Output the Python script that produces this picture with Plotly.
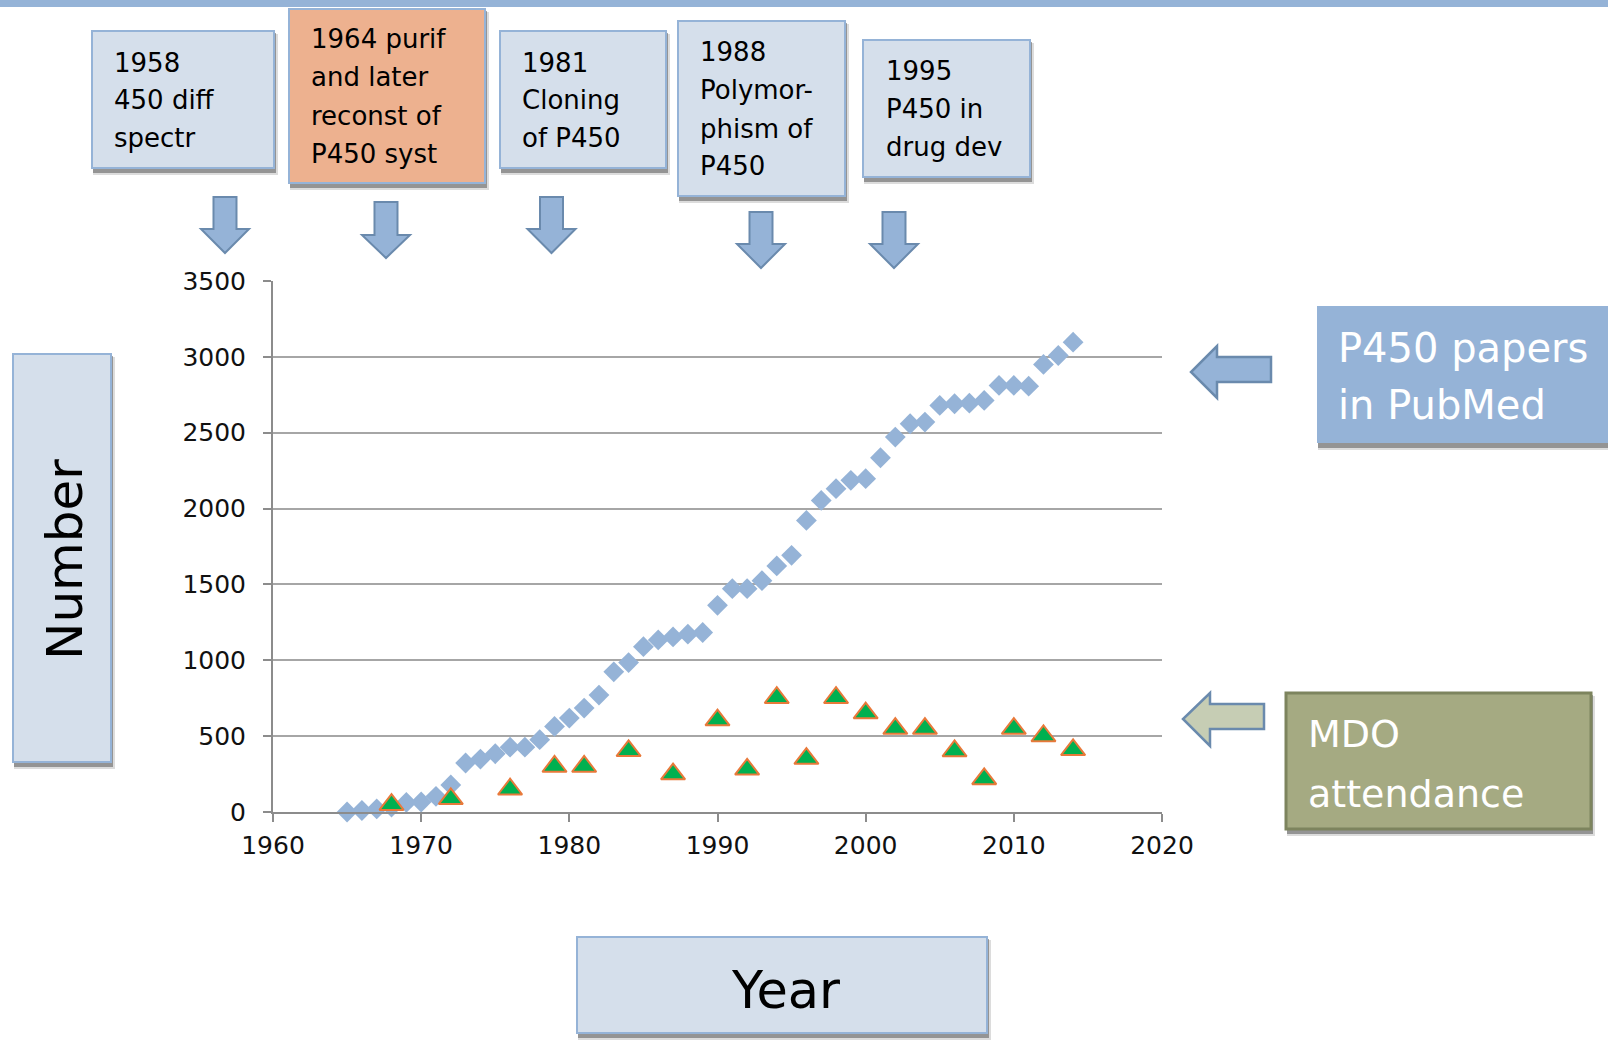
import plotly.graph_objects as go

# ---------------- data ----------------
paper_years = [1965, 1966, 1967, 1968, 1969, 1970, 1971, 1972, 1973, 1974,
               1975, 1976, 1977, 1978, 1979, 1980, 1981, 1982, 1983, 1984,
               1985, 1986, 1987, 1988, 1989, 1990, 1991, 1992, 1993, 1994,
               1995, 1996, 1997, 1998, 1999, 2000, 2001, 2002, 2003, 2004,
               2005, 2006, 2007, 2008, 2009, 2010, 2011, 2012, 2013, 2014]
p450_papers = [0, 10, 20, 33, 63, 66, 103, 178, 323, 349,
               384, 427, 427, 477, 564, 619, 685, 771, 924, 985,
               1090, 1134, 1154, 1172, 1183, 1362, 1472, 1472, 1525, 1622,
               1692, 1922, 2054, 2131, 2186, 2197, 2335, 2471, 2559, 2570,
               2680, 2691, 2695, 2713, 2812, 2812, 2807, 2950, 3009, 3097]

mdo_years = [1968, 1972, 1976, 1979, 1981, 1984, 1987, 1990, 1992, 1994,
             1996, 1998, 2000, 2002, 2004, 2006, 2008, 2010, 2012, 2014]
mdo_attendance = [48, 87, 150, 300, 300, 403, 250, 606, 281, 753,
                  352, 753, 652, 550, 550, 402, 218, 550, 501, 410]

x_ticks = [1960, 1970, 1980, 1990, 2000, 2010, 2020]
y_ticks = [0, 500, 1000, 1500, 2000, 2500, 3000, 3500]

milestones = [
    ["1958", "450 diff", "spectr"],
    ["1964 purif", "and later", "reconst of", "P450 syst"],
    ["1981", "Cloning", "of P450"],
    ["1988", "Polymor-", "phism of", "P450"],
    ["1995", "P450 in", "drug dev"],
]

# ---------------- layout helpers (pixel -> paper) ----------------
W, H = 1608, 1040
L, R, T, B = 273, 446, 281, 228
PW, PH = W - L - R, H - T - B


def px(x):
    return (x - L) / PW


def py(y):
    return (H - B - y) / PH


FONT = "DejaVu Sans"
BOX_FILL = "#D5DFEB"
BOX_LINE = "#95B3D7"
BLUE = "#95B3D7"
ARROW_LINE = "#6A8AAD"

shapes = []
annotations = []


def rect(x0, y0, x1, y1, fill, line=None, lw=0, shadow=True):
    if shadow:
        shapes.append(dict(type="rect", xref="paper", yref="paper",
                           x0=px(x0 + 1), x1=px(x1 + 4), y0=py(y1 + 7), y1=py(y0 + 3),
                           fillcolor="rgba(60,60,60,0.18)", line=dict(width=0), layer="below"))
        shapes.append(dict(type="rect", xref="paper", yref="paper",
                           x0=px(x0 + 1), x1=px(x1 + 2), y0=py(y1 + 5), y1=py(y0 + 2),
                           fillcolor="rgba(60,60,60,0.45)", line=dict(width=0), layer="below"))
    shapes.append(dict(type="rect", xref="paper", yref="paper",
                       x0=px(x0), x1=px(x1), y0=py(y1), y1=py(y0),
                       fillcolor=fill,
                       line=dict(color=line if line else fill, width=lw), layer="below"))


def poly(points, fill, line, lw=2):
    d = "M " + " L ".join(f"{px(x):.5f},{py(y):.5f}" for x, y in points) + " Z"
    shapes.append(dict(type="path", xref="paper", yref="paper", path=d,
                       fillcolor=fill, line=dict(color=line, width=lw), layer="below"))


def text(x, y, s, size, color="black", xanchor="left", angle=0):
    annotations.append(dict(xref="paper", yref="paper", x=px(x), y=py(y), text=s,
                            showarrow=False, xanchor=xanchor, yanchor="middle",
                            textangle=angle,
                            font=dict(family=FONT, size=size, color=color)))


# top bar
shapes.append(dict(type="rect", xref="paper", yref="paper", x0=px(0), x1=px(W),
                   y0=py(7), y1=py(0), fillcolor=BLUE, line=dict(width=0), layer="below"))

# milestone boxes
boxes = [(92, 31, 274, 168, BOX_FILL), (289, 9, 485, 183, "#EDB18F"),
         (500, 31, 666, 168, BOX_FILL), (678, 21, 845, 196, BOX_FILL),
         (863, 40, 1030, 177, BOX_FILL)]
text_left = [112, 309, 520, 698, 884]
text_y = [[63, 100.5, 138], [39, 77.3, 115.6, 154], [63, 100.5, 138],
          [51.7, 90, 128.5, 166], [71, 109.3, 147]]
for (x0, y0, x1, y1, fill), lines, tl, ty in zip(boxes, milestones, text_left, text_y):
    rect(x0, y0, x1, y1, fill, BOX_LINE, 2)
    for s, yy in zip(lines, ty):
        text(tl, yy, s, 26)

# down arrows
arrows = [(225, 197, 229, 253), (386, 202, 235, 258), (551.5, 197, 229, 253),
          (761, 212, 244, 268), (894, 212, 244, 268)]
for cx, top, hd, tip in arrows:
    poly([(cx - 11.5, top), (cx + 11.5, top), (cx + 11.5, hd), (cx + 24, hd),
          (cx, tip), (cx - 24, hd), (cx - 11.5, hd)], BLUE, ARROW_LINE, 2)

# right side labels
rect(1317, 306, 1615, 443, BLUE, BLUE, 0)
text(1336, 348, "P450 papers", 40, "white")
text(1336, 405, "in PubMed", 40, "white")
poly([(1271, 357), (1217, 357), (1217, 346), (1191, 372), (1217, 398),
      (1217, 382), (1271, 382)], BLUE, ARROW_LINE, 2.5)

rect(1286, 693, 1591, 829, "#A5AA82", "#7D845E", 3)
text(1306, 734, "MDO", 38, "white")
text(1306, 794, "attendance", 38, "white")
poly([(1264, 704), (1210, 704), (1210, 693), (1183, 719), (1210, 746),
      (1210, 729), (1264, 729)], "#C6CDB4", ARROW_LINE, 2.5)

# axis title boxes
rect(13, 354, 111, 762, BOX_FILL, BOX_LINE, 2)
text(65, 560, "Number", 50, "black", xanchor="center", angle=-90)
rect(577, 937, 987, 1033, BOX_FILL, BOX_LINE, 2)
text(785, 990, "Year", 51, "black", xanchor="center")

# ---------------- traces ----------------
fig = go.Figure()
fig.add_trace(go.Scatter(x=paper_years, y=p450_papers, mode="markers",
                         name="P450 papers in PubMed", cliponaxis=False,
                         marker=dict(symbol="diamond", size=16, color="#95B3D7",
                                     line=dict(width=0))))
fig.add_trace(go.Scatter(x=mdo_years, y=mdo_attendance, mode="markers",
                         name="MDO attendance", cliponaxis=False,
                         marker=dict(symbol="triangle-up", size=21, color="#00B050",
                                     line=dict(width=2, color="#E8793A"))))

fig.update_layout(
    width=W, height=H,
    margin=dict(l=L, r=R, t=T, b=B, autoexpand=False),
    paper_bgcolor="white", plot_bgcolor="white",
    showlegend=False,
    shapes=shapes, annotations=annotations,
    font=dict(family=FONT, color="black"),
    xaxis=dict(range=[1960, 2020], tickvals=x_ticks, ticktext=[str(v) for v in x_ticks],
               showgrid=False, zeroline=False, showline=True, linecolor="#8C8C8C",
               linewidth=2, ticks="outside", ticklen=8, tickwidth=2, tickcolor="#8C8C8C",
               ticklabelstandoff=2,
               tickfont=dict(family=FONT, size=25, color="#111111")),
    yaxis=dict(range=[0, 3500], tickvals=y_ticks, ticktext=[str(v) for v in y_ticks],
               showgrid=True, gridcolor="#A6A6A6", gridwidth=2, zeroline=False,
               showline=True, linecolor="#8C8C8C", linewidth=2,
               ticks="outside", ticklen=8, tickwidth=2, tickcolor="#8C8C8C",
               ticklabelstandoff=12,
               tickfont=dict(family=FONT, size=25, color="#111111")),
)

fig.write_html("out.html",
               config={"displayModeBar": False},
               post_script="document.body.style.margin='0px';"
                           "document.body.style.overflow='hidden';")
